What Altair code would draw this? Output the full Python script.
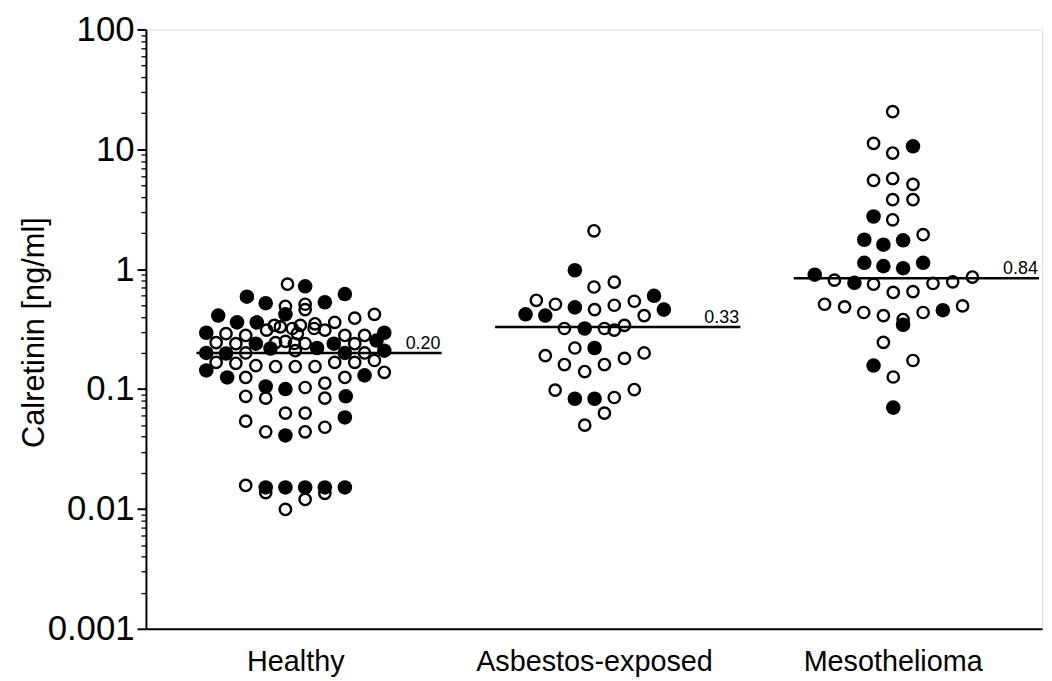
import altair as alt
import pandas as pd

groups = ["Healthy", "Asbestos-exposed", "Mesothelioma"]
medians = [0.20, 0.33, 0.84]
median_text = ["0.20", "0.33", "0.84"]

# Healthy: horizontal jitter (fraction of category width), value, kind (o=open, f=filled)
h_dx = [-0.026, 0.033, -0.162, -0.099, -0.033, 0.033, 0.033, 0.099, 0.166, -0.258,
        -0.195, -0.129, -0.033, -0.070, 0.066, 0.132, 0.199, 0.265, -0.050, -0.010,
        0.017, 0.007, 0.063, -0.033, 0.033, -0.003, -0.298, -0.232, -0.166, -0.096,
        0.099, 0.166, 0.232, 0.298, -0.265, -0.199, -0.132, -0.066, 0.129, 0.199,
        0.272, -0.298, -0.232, -0.166, -0.083, 0.000, 0.073, 0.166, 0.232, 0.298,
        -0.265, -0.199, -0.132, -0.066, 0.000, 0.066, 0.132, 0.199, 0.265, -0.298,
        -0.228, -0.166, 0.166, 0.232, 0.298, -0.166, -0.099, -0.099, -0.033, 0.033,
        0.099, 0.099, 0.169, -0.033, 0.033, 0.166, -0.166, -0.099, -0.033, 0.033,
        0.099, -0.166, -0.099, -0.099, -0.033, 0.033, 0.033, 0.099, 0.099, 0.166, -0.033]
h_val = [0.75, 0.72, 0.59, 0.52, 0.49, 0.51, 0.46, 0.53, 0.62, 0.41,
         0.36, 0.36, 0.42, 0.34, 0.35, 0.36, 0.39, 0.42, 0.33, 0.32,
         0.34, 0.29, 0.32, 0.25, 0.24, 0.24, 0.295, 0.29, 0.28, 0.31,
         0.31, 0.28, 0.28, 0.295, 0.244, 0.239, 0.239, 0.244, 0.239, 0.239,
         0.254, 0.20, 0.198, 0.20, 0.218, 0.209, 0.22, 0.20, 0.20, 0.209,
         0.167, 0.164, 0.157, 0.154, 0.154, 0.154, 0.167, 0.167, 0.173, 0.143,
         0.125, 0.125, 0.125, 0.130, 0.138, 0.087, 0.105, 0.084, 0.10, 0.103,
         0.112, 0.084, 0.087, 0.063, 0.063, 0.058, 0.054, 0.044, 0.041, 0.044,
         0.048, 0.0157, 0.0151, 0.0137, 0.0151, 0.0151, 0.012, 0.0151, 0.0135, 0.0151, 0.0099]
h_kind = ("offfooofff" "fffooooooo" "oooooofooo" "ooofoofofo" "fffofoffof"
          "ooooooooof" "foofoofofo" "oofoofoofo" "oofoffofofo")

a_dx = [0.000, -0.064, 0.000, 0.068, -0.193, -0.129, -0.064, 0.002, 0.068, 0.135,
        0.201, 0.234, -0.229, -0.163, 0.168, -0.099, -0.031, 0.035, 0.068, 0.102,
        -0.064, 0.002, -0.163, -0.099, -0.031, 0.035, 0.102, 0.168, -0.130, -0.064,
        0.002, 0.068, 0.135, 0.035, -0.031]
a_val = [2.09, 0.98, 0.71, 0.78, 0.55, 0.51, 0.48, 0.46, 0.50, 0.54,
         0.60, 0.46, 0.42, 0.41, 0.41, 0.32, 0.32, 0.32, 0.31, 0.34,
         0.22, 0.22, 0.19, 0.16, 0.14, 0.16, 0.18, 0.20, 0.098, 0.083,
         0.083, 0.085, 0.099, 0.063, 0.050]
a_kind = "ofoooofooo" "ffffoofooo" "ofooooooof" "foooo"

m_dx = [0.000, -0.064, 0.000, 0.068, -0.064, 0.000, 0.068, 0.000, 0.068, -0.064,
        0.000, -0.095, -0.031, 0.035, 0.102, -0.095, -0.031, 0.035, 0.102, -0.261,
        -0.195, -0.128, -0.064, 0.002, 0.068, 0.135, 0.201, 0.267, -0.228, -0.161,
        -0.097, -0.031, 0.035, 0.035, 0.102, 0.168, 0.234, -0.031, -0.064, 0.068,
        0.002, 0.002]
m_val = [20.6, 11.2, 9.3, 10.6, 5.5, 5.7, 5.1, 3.8, 3.8, 2.75,
         2.58, 1.76, 1.60, 1.74, 1.94, 1.13, 1.06, 1.02, 1.13, 0.90,
         0.81, 0.77, 0.75, 0.64, 0.65, 0.76, 0.785, 0.86, 0.51, 0.485,
         0.435, 0.41, 0.38, 0.344, 0.435, 0.455, 0.494, 0.245, 0.157, 0.173,
         0.126, 0.070]
m_kind = "ooofooooof" "offfofffff" "ofoooooooo" "ooofofoofo" "of"

y_tick_values = [round(m * 10 ** e, 6) for e in range(-3, 2) for m in range(1, 10)] + [100]
decades = [0.001, 0.01, 0.1, 1, 10, 100]

series = [(h_dx, h_val, h_kind), (a_dx, a_val, a_kind), (m_dx, m_val, m_kind)]
rows = []
for gi, (dxs, vals, kinds) in enumerate(series):
    for dx, v, k in zip(dxs, vals, kinds):
        rows.append({"group": groups[gi], "x": gi + 0.5 + dx, "value": v,
                     "kind": "filled" if k == "f" else "open"})
pts = pd.DataFrame(rows)

med = pd.DataFrame({
    "group": groups,
    "median": medians,
    "label": median_text,
    "x1": [i + 0.5 - 0.331 for i in range(3)],
    "x2": [i + 0.5 + 0.490 for i in range(3)],
    "xt": [i + 0.5 + 0.486 for i in range(3)],
})

font = "Liberation Sans, Arial, Helvetica"

dec_test = "indexof(" + str(decades) + ", datum.value) >= 0"
grp_js = "[" + ",".join("'" + g + "'" for g in groups) + "]"

x_scale = alt.Scale(domain=[0, 3], nice=False, zero=False)
y_scale = alt.Scale(type="log", domain=[0.001, 100], nice=False)

x_axis = alt.Axis(
    values=[0.5, 1.5, 2.5], labelExpr=grp_js + "[floor(datum.value)]",
    ticks=False, grid=False, title=None, domainColor="black", domainWidth=2,
    labelFont=font, labelFontSize=29, labelColor="black", labelPadding=19,
    labelLimit=0, labelOverlap=False,
)
y_axis = alt.Axis(
    values=y_tick_values, format="~g",
    labelExpr=dec_test + " ? datum.label : ''",
    tickSize={"condition": {"test": dec_test, "value": 9}, "value": 5},
    tickWidth={"condition": {"test": dec_test, "value": 2}, "value": 1.3},
    tickColor="black", domainColor="black", domainWidth=2, grid=False,
    labelFont=font, labelFontSize=35, labelColor="black", labelPadding=3,
    labelLimit=0, labelOverlap=False,
    title="Calretinin [ng/ml]", titleFont=font, titleFontSize=31,
    titleFontWeight="normal", titleColor="black", titleX=-96, titleY=305,
)

base = alt.Chart(pts)
open_pts = base.transform_filter(alt.datum.kind == "open").mark_point(
    shape="circle", size=130, filled=False, stroke="black", strokeWidth=2.4, opacity=1
).encode(
    x=alt.X("x:Q", scale=x_scale, axis=x_axis),
    y=alt.Y("value:Q", scale=y_scale, axis=y_axis),
)
filled_pts = base.transform_filter(alt.datum.kind == "filled").mark_circle(
    size=215, color="black", opacity=1
).encode(
    x=alt.X("x:Q", scale=x_scale),
    y=alt.Y("value:Q", scale=y_scale),
)
rules = alt.Chart(med).mark_rule(color="black", strokeWidth=2.5).encode(
    x=alt.X("x1:Q", scale=x_scale), x2="x2:Q",
    y=alt.Y("median:Q", scale=y_scale),
)
labels = alt.Chart(med).mark_text(
    align="right", baseline="alphabetic", dy=-4, font=font, fontSize=18, color="black"
).encode(
    x=alt.X("xt:Q", scale=x_scale),
    y=alt.Y("median:Q", scale=y_scale),
    text="label:N",
)

chart = alt.layer(open_pts, filled_pts, rules, labels).properties(
    width=903, height=604,
    autosize=alt.AutoSizeParams(type="none"),
    padding={"left": 139, "top": 19, "right": 2, "bottom": 50},
).configure_view(stroke=None).configure(background="white")

chart.save("out.html", embed_options={"renderer": "svg", "actions": False})
